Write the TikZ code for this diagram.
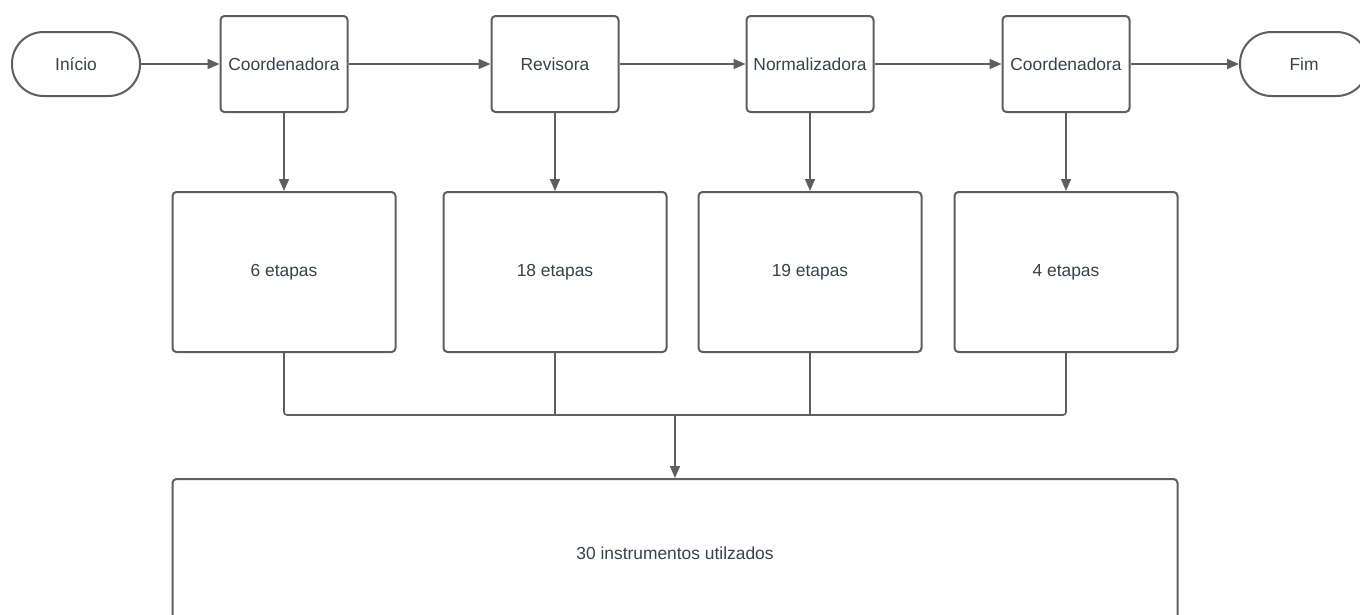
\documentclass[tikz,border=0pt]{standalone}
\usepackage{fontspec}
\setmainfont{Liberation Sans}
\usetikzlibrary{arrows.meta}
\definecolor{linec}{HTML}{5E5E5E}
\definecolor{textc}{HTML}{3A414A}
\tikzset{
  base/.style={draw=linec, line width=2pt, text=textc, font=\fontsize{17.4}{20}\selectfont, inner sep=0pt, fill=white},
  terminal/.style={base, rounded corners=31.5pt, minimum width=128pt, minimum height=64pt},
  role/.style={base, rounded corners=4pt, minimum width=127pt, minimum height=96pt},
  stage/.style={base, rounded corners=4pt, minimum width=223pt, minimum height=160pt},
  result/.style={base, rounded corners=4pt, minimum width=1005pt, minimum height=148pt},
  flow/.style={draw=linec, line width=1.6pt, -{Triangle[length=12pt,width=10pt]}},
  mergeline/.style={draw=linec, line width=1.6pt}
}
\begin{document}
\begin{tikzpicture}[x=1pt,y=-1pt]
\useasboundingbox (0,0) rectangle (1360,614);
\clip (0,0) rectangle (1360,614);
\fill[white] (0,0) rectangle (1360,614);
\node[terminal] (ini) at (76,64) {Início};
\node[role] (c1) at (284,64) {Coordenadora};
\node[role] (rv) at (555,64) {Revisora};
\node[role] (nm) at (810,64) {Normalizadora};
\node[role] (c2) at (1066,64) {Coordenadora};
\node[terminal] (fim) at (1304,64) {Fim};
\node[stage] (s1) at (284,272) {6 etapas};
\node[stage] (s2) at (555,272) {18 etapas};
\node[stage] (s3) at (810,272) {19 etapas};
\node[stage] (s4) at (1066,272) {4 etapas};
\node[result] (res) at (675,553) {30 instrumentos utilzados};
\coordinate (j) at (675,415);
\draw[flow] (ini) -- (c1);
\draw[flow] (c1) -- (rv);
\draw[flow] (rv) -- (nm);
\draw[flow] (nm) -- (c2);
\draw[flow] (c2) -- (fim);
\draw[flow] (c1) -- (s1);
\draw[flow] (rv) -- (s2);
\draw[flow] (nm) -- (s3);
\draw[flow] (c2) -- (s4);
\draw[mergeline, rounded corners=3pt] (s1.south) |- (j) -| (s4.south);
\draw[mergeline] (s2.south) -- (s2.south |- j);
\draw[mergeline] (s3.south) -- (s3.south |- j);
\draw[flow] (j) -- (res.north);
\end{tikzpicture}
\end{document}
